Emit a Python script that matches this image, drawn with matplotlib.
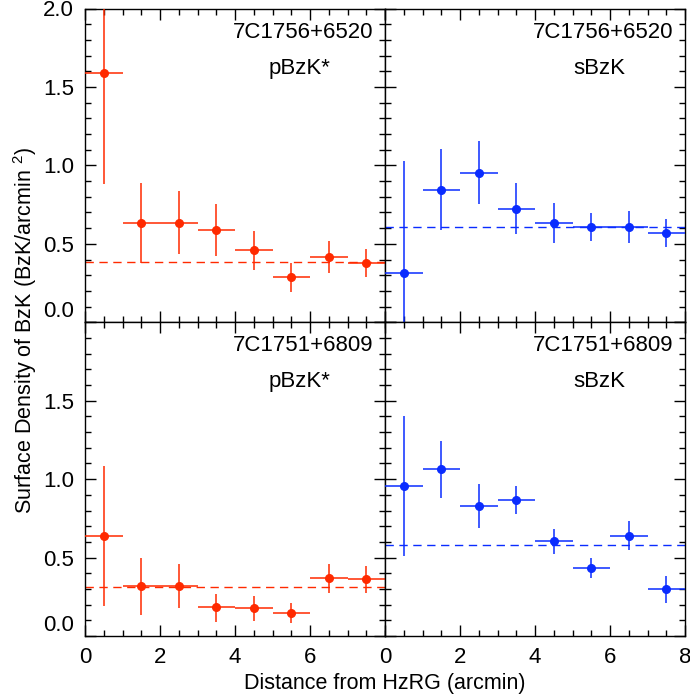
import numpy as np
import matplotlib
matplotlib.use('Agg')
import matplotlib.pyplot as plt
from matplotlib.ticker import MultipleLocator

plt.rcParams.update({
    'font.family': ['Liberation Sans', 'DejaVu Sans'],
    'font.size': 16,
    'axes.linewidth': 1.0,
    'mathtext.fontset': 'custom',
    'mathtext.rm': 'Liberation Sans',
})

RED = '#ff2a00'
BLUE = '#0a2cff'

# bin centres (arcmin), half-width 0.5
x_bins = [0.5, 1.5, 2.5, 3.5, 4.5, 5.5, 6.5, 7.5]

# 7C1756+6520, pBzK*
p1_y  = [1.59, 0.635, 0.635, 0.59, 0.46, 0.287, 0.416, 0.38]
p1_lo = [0.88, 0.378, 0.433, 0.425, 0.331, 0.195, 0.314, 0.289]
p1_hi = [2.30, 0.89, 0.834, 0.752, 0.584, 0.376, 0.516, 0.469]
p1_mean = 0.387

# 7C1756+6520, sBzK
s1_y  = [0.316, 0.845, 0.953, 0.724, 0.635, 0.605, 0.609, 0.571]
s1_lo = [-0.39, 0.59, 0.752, 0.563, 0.505, 0.516, 0.507, 0.48]
s1_hi = [1.025, 1.106, 1.153, 0.89, 0.762, 0.694, 0.711, 0.66]
s1_mean = 0.609

# 7C1751+6809, pBzK*
p2_y  = [0.636, 0.318, 0.318, 0.182, 0.178, 0.144, 0.369, 0.363]
p2_lo = [0.189, 0.136, 0.176, 0.091, 0.097, 0.081, 0.275, 0.275]
p2_hi = [1.086, 0.50, 0.46, 0.27, 0.254, 0.208, 0.46, 0.447]
p2_mean = 0.315

# 7C1751+6809, sBzK
s2_y  = [0.957, 1.062, 0.828, 0.866, 0.604, 0.435, 0.637, 0.298]
s2_lo = [0.507, 0.88, 0.688, 0.776, 0.521, 0.371, 0.546, 0.211]
s2_hi = [1.403, 1.245, 0.97, 0.955, 0.68, 0.498, 0.73, 0.385]
s2_mean = 0.578

panels = [
    (0, 0, p1_y, p1_lo, p1_hi, p1_mean, RED, '7C1756+6520', 'pBzK*'),
    (0, 1, s1_y, s1_lo, s1_hi, s1_mean, BLUE, '7C1756+6520', 'sBzK'),
    (1, 0, p2_y, p2_lo, p2_hi, p2_mean, RED, '7C1751+6809', 'pBzK*'),
    (1, 1, s2_y, s2_lo, s2_hi, s2_mean, BLUE, '7C1751+6809', 'sBzK'),
]

fig, axes = plt.subplots(2, 2, figsize=(6.9, 6.98), dpi=100)
fig.subplots_adjust(left=85/690, right=685/690, top=1-8.5/698,
                    bottom=1-636/698, hspace=0, wspace=0)

for row, col, y, lo, hi, mean, color, name, kind in panels:
    ax = axes[row, col]
    y = np.array(y)
    yerr = [y - np.array(lo), np.array(hi) - y]
    ax.errorbar(x_bins, y, xerr=0.5, yerr=yerr, fmt='o', color=color,
                ms=5.5, elinewidth=1.1, capsize=0, zorder=3)
    ax.axhline(mean, color=color, lw=1.0, dashes=(6, 4))

    ax.set_xlim(0, 8)
    ax.set_ylim(0, 2.0)
    ax.xaxis.set_major_locator(MultipleLocator(2))
    ax.xaxis.set_minor_locator(MultipleLocator(0.5))
    ax.yaxis.set_major_locator(MultipleLocator(0.5))
    ax.yaxis.set_minor_locator(MultipleLocator(0.1))
    ax.tick_params(which='both', direction='in', top=True, right=True,
                   labelsize=16, pad=8)
    ax.tick_params(which='major', length=8, width=1.0)
    ax.tick_params(which='minor', length=4, width=1.0)

    ax.text(0.96, 0.925, name, transform=ax.transAxes, ha='right',
            va='center', fontsize=16)
    ax.text(0.715, 0.81, kind, transform=ax.transAxes, ha='center',
            va='center', fontsize=16)

    if col == 1:
        ax.set_yticklabels([])
    if row == 0:
        ax.set_xticklabels([])

# left panels: trim overlapping labels
axes[1, 0].set_xticks([0, 2, 4, 6])
axes[1, 0].set_xticklabels(['0', '2', '4', '6'])
axes[1, 1].set_xticks([0, 2, 4, 6, 8])
axes[1, 1].set_xticklabels(['0', '2', '4', '6', '8'])
axes[0, 0].set_yticks([0, 0.5, 1.0, 1.5, 2.0])
axes[0, 0].set_yticklabels(['0.0', '0.5', '1.0', '1.5', '2.0'])
axes[1, 0].set_yticks([0, 0.5, 1.0, 1.5, 2.0])
axes[1, 0].set_yticklabels(['0.0', '0.5', '1.0', '1.5', ''])
for ax in (axes[0, 0], axes[1, 0]):
    ax.get_yticklabels()[0].set_va('bottom')

fig.text(385/690, 1-683/698, 'Distance from HzRG (arcmin)',
         ha='center', va='center', fontsize=15.5)
fig.text(25/690, 1-330/698, r'Surface Density of BzK (BzK/arcmin $^2$)',
         ha='center', va='center', rotation=90, fontsize=15.5)

fig.savefig('out.png', dpi=100)
